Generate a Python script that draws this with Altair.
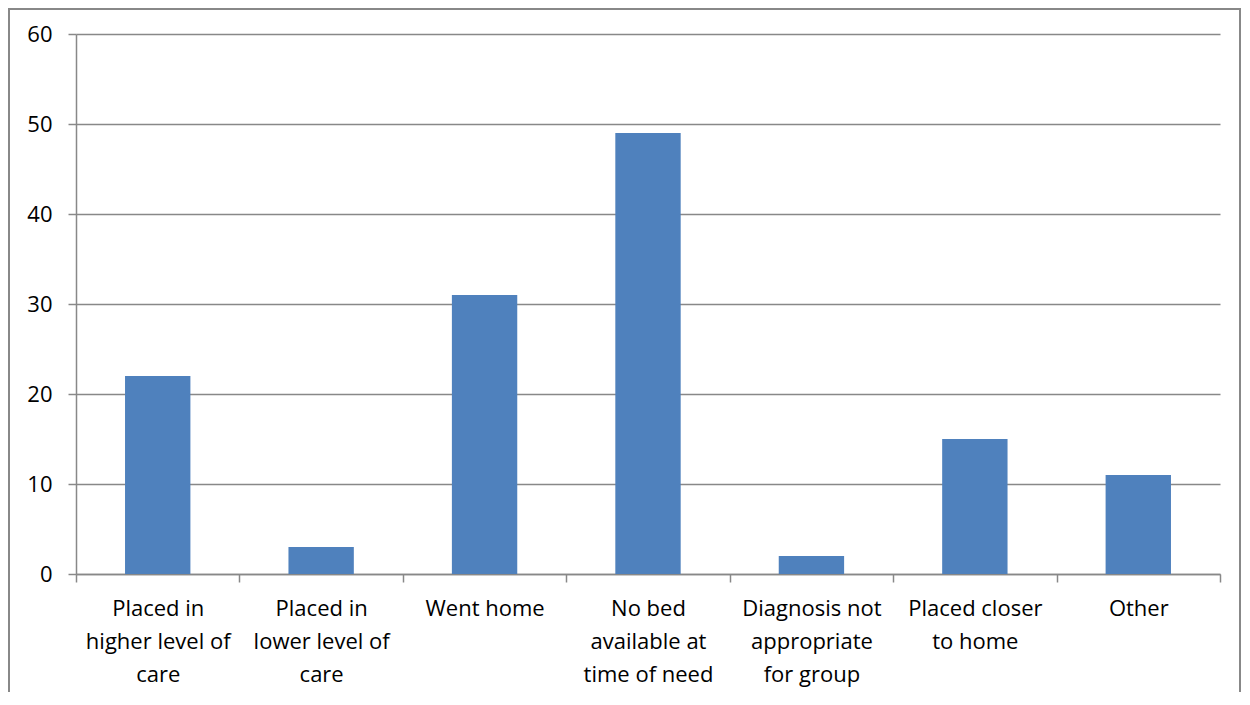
import altair as alt
import pandas as pd

categories = [
    "Placed in|higher level of|care",
    "Placed in|lower level of|care",
    "Went home",
    "No bed|available at|time of need",
    "Diagnosis not|appropriate|for group",
    "Placed closer|to home",
    "Other",
]
values = [22, 3, 31, 49, 2, 15, 11]
y_ticks = [0, 10, 20, 30, 40, 50, 60]

df = pd.DataFrame({"category": categories, "value": values})

FONT = "Open Sans"
GRID = "#888888"

bars = alt.Chart(df).mark_bar(color="#4F81BD", width=alt.RelativeBandSize(0.4)).encode(
    x=alt.X(
        "category:N",
        sort=categories,
        scale=alt.Scale(paddingInner=0, paddingOuter=0),
        axis=alt.Axis(
            title=None,
            labelAngle=0,
            labelExpr="split(datum.label, '|')",
            labelFont=FONT,
            labelFontSize=22,
            labelColor="#000000",
            labelLineHeight=33,
            labelPadding=16,
            labelBaseline="top",
            tickBand="extent",
            tickSize=8,
            tickColor=GRID,
            domainColor=GRID,
            domainWidth=1.5,
            tickWidth=1.5,
            grid=False,
        ),
    ),
    y=alt.Y(
        "value:Q",
        scale=alt.Scale(domain=[0, 60], nice=False),
        axis=alt.Axis(
            title=None,
            values=y_ticks,
            labelFont=FONT,
            labelFontSize=22,
            labelColor="#000000",
            labelPadding=16,
            tickSize=8,
            tickColor=GRID,
            domainColor=GRID,
            domainWidth=1.5,
            tickWidth=1.5,
            gridColor=GRID,
            gridWidth=1.5,
        ),
    ),
)

border = alt.Chart(df).mark_rect(
    fill=None, stroke=GRID, strokeWidth=2, clip=False
).encode(
    x=alt.value(-67), x2=alt.value(1164), y=alt.value(-25), y2=alt.value(740)
).transform_filter("datum.value == 22")

chart = alt.layer(bars, border).properties(
    width=1144,
    height=540,
    padding={"left": 68, "top": 26, "right": 22, "bottom": 118},
    autosize=alt.AutoSizeParams(type="none"),
).configure_view(stroke=None)

chart.save("out.html", embed_options={"renderer": "svg", "actions": False})
